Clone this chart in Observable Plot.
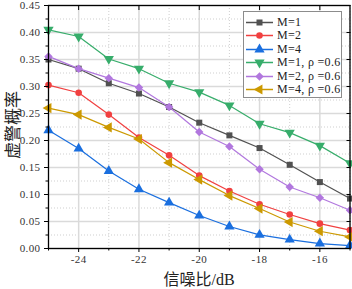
<!DOCTYPE html>
<html>
<head>
<meta charset="utf-8">
<script src="https://cdn.jsdelivr.net/npm/d3@7"></script>
<script src="https://cdn.jsdelivr.net/npm/@observablehq/plot@0.6"></script>
<style>
  html, body { margin: 0; padding: 0; background: #fff; }
  #wrap { position: relative; width: 352px; height: 289px; overflow: hidden; font-family: "Liberation Serif", "Noto Sans CJK SC", serif; }
  #wrap svg.chart { position: absolute; left: 0; top: 0; }
  .ttl { position: absolute; color: #222; white-space: nowrap; font-family: "Liberation Serif", "Noto Sans CJK SC", serif; }
  #legend { position: absolute; left: 243px; top: 11px; width: 99px; height: 87px; box-sizing: border-box; border: 1px solid #8c8c8c; background: #fff; }
  .lrow { position: absolute; left: 0; height: 13px; display: flex; align-items: center; font-size: 12px; color: #222; }
</style>
</head>
<body>
<div id="wrap"></div>
<script>
// ---- data ----
const snr = [-25, -24, -23, -22, -21, -20, -19, -18, -17, -16, -15];
const seriesNames = ["M=1", "M=2", "M=4", "M=1, ρ =0.6", "M=2, ρ =0.6", "M=4, ρ =0.6"];
const m1  = [0.350, 0.333, 0.306, 0.287, 0.262, 0.233, 0.2095, 0.186, 0.155, 0.123, 0.0925];
const m2  = [0.3026, 0.2885, 0.248, 0.2055, 0.1725, 0.135, 0.1066, 0.082, 0.063, 0.046, 0.034];
const m4  = [0.219, 0.185, 0.1435, 0.1097, 0.085, 0.061, 0.0407, 0.0252, 0.0166, 0.0092, 0.0055];
const m1r = [0.405, 0.3926, 0.351, 0.333, 0.306, 0.2896, 0.265, 0.231, 0.2145, 0.1905, 0.158];
const m2r = [0.3557, 0.333, 0.3155, 0.298, 0.262, 0.2157, 0.189, 0.1467, 0.114, 0.094, 0.0708];
const m4r = [0.260, 0.248, 0.2243, 0.2027, 0.159, 0.1276, 0.098, 0.074, 0.049, 0.032, 0.0215];
const xTicks = [-24, -22, -20, -18, -16];
const xMinor = [-25, -23, -21, -19, -17, -15];
const yTicks = [0, 0.05, 0.10, 0.15, 0.20, 0.25, 0.30, 0.35, 0.40, 0.45];
const yMinor = [0.025, 0.075, 0.125, 0.175, 0.225, 0.275, 0.325, 0.375, 0.425];
const xLabel = "信噪比/dB";
const yLabel = "虚警概率";

// ---- styles ----
const colors = ["#515151", "#F14040", "#1A6FDF", "#37AD6B", "#B177DE", "#CC9900"];
const s3 = Math.sqrt(3);
const triDown = {draw(ctx, size) { const y = -Math.sqrt(size / (s3 * 3)); ctx.moveTo(0, -y * 2); ctx.lineTo(-s3 * y, y); ctx.lineTo(s3 * y, y); ctx.closePath(); }};
const triUp = {draw(ctx, size) { const y = -Math.sqrt(size / (s3 * 3)); ctx.moveTo(0, y * 2); ctx.lineTo(-s3 * y, -y); ctx.lineTo(s3 * y, -y); ctx.closePath(); }};
const triLeft = {draw(ctx, size) { const y = -Math.sqrt(size / (s3 * 3)); ctx.moveTo(y * 2, 0); ctx.lineTo(-y, -s3 * y); ctx.lineTo(-y, s3 * y); ctx.closePath(); }};
const symbols = [d3.symbolSquare, d3.symbolCircle, triUp, triDown, d3.symbolDiamond2, triLeft];
const radii = [3.4, 3.3, 3.8, 3.8, 3.8, 3.8];

const allValues = [m1, m2, m4, m1r, m2r, m4r];
const series = allValues.map((vals, i) => ({
  name: seriesNames[i], color: colors[i], symbol: symbols[i], r: radii[i],
  data: snr.map((x, j) => ({x, y: vals[j]}))
}));

const marks = [
  Plot.gridX(xMinor, {stroke: "#cfcfcf", strokeOpacity: 1, strokeWidth: 1, strokeDasharray: "1,2"}),
  Plot.gridY(yMinor, {stroke: "#cfcfcf", strokeOpacity: 1, strokeWidth: 1, strokeDasharray: "1,2"}),
  Plot.gridX(xTicks, {stroke: "#dadada", strokeOpacity: 1, strokeWidth: 1.5}),
  Plot.gridY(yTicks, {stroke: "#dadada", strokeOpacity: 1, strokeWidth: 1.5}),
];
for (const s of series) {
  marks.push(Plot.line(s.data, {x: "x", y: "y", stroke: s.color, strokeWidth: 1.2}));
  marks.push(Plot.dot(s.data, {x: "x", y: "y", fill: s.color, stroke: "none", symbol: () => s.symbol, r: s.r}));
}
marks.push(
  Plot.axisX(xTicks, {anchor: "bottom", tickSize: 4, tickPadding: 3, tickFormat: d => String(d), label: null, stroke: "#000", fill: "#333", fontSize: 11}),
  Plot.axisX(xMinor, {anchor: "bottom", tickSize: 2.5, tickFormat: () => "", label: null, stroke: "#000"}),
  Plot.axisY(yTicks, {anchor: "left", tickSize: 4, tickPadding: 4, tickFormat: d => d.toFixed(2), label: null, stroke: "#000", fill: "#333", fontSize: 11}),
  Plot.axisY(yMinor, {anchor: "left", tickSize: 2.5, tickFormat: () => "", label: null, stroke: "#000"}),
  Plot.axisX(xTicks, {anchor: "top", tickSize: -4, tickFormat: () => "", label: null, stroke: "#000"}),
  Plot.axisY(yTicks, {anchor: "right", tickSize: -4, tickFormat: () => "", label: null, stroke: "#000"}),
  Plot.frame({stroke: "#000", strokeWidth: 1.3})
);

const chart = Plot.plot({
  width: 352, height: 289,
  marginLeft: 48, marginRight: 2.5, marginTop: 5, marginBottom: 41,
  x: {domain: [-25, -15]},
  y: {domain: [0, 0.45]},
  style: {fontFamily: "'Liberation Serif', 'Noto Sans CJK SC', serif", fontSize: "11px", background: "transparent", color: "#333", letterSpacing: "0.4px"},
  marks
});
chart.classList.add("chart");
const wrap = document.getElementById("wrap");
wrap.appendChild(chart);

// axis titles
const xl = document.createElement("div");
xl.className = "ttl"; xl.textContent = xLabel;
xl.style.cssText += "left:199px;top:278px;font-size:16px;transform:translate(-50%,-50%);";
wrap.appendChild(xl);
const yl = document.createElement("div");
yl.className = "ttl"; yl.textContent = yLabel;
yl.style.cssText += "left:11px;top:125px;font-size:17px;transform:translate(-50%,-50%) rotate(-90deg);";
wrap.appendChild(yl);

// legend
const legend = document.createElement("div");
legend.id = "legend";
wrap.appendChild(legend);
series.forEach((s, i) => {
  const row = document.createElement("div");
  row.className = "lrow";
  row.style.top = (3.5 + i * 13.5) + "px";
  const sw = d3.create("svg").attr("width", 33).attr("height", 13);
  sw.append("line").attr("x1", 2).attr("x2", 29).attr("y1", 6.5).attr("y2", 6.5).attr("stroke", s.color).attr("stroke-width", 1.5);
  sw.append("path").attr("transform", "translate(15.5,6.5)").attr("fill", s.color)
    .attr("d", d3.symbol(s.symbol, Math.PI * s.r * s.r)());
  row.appendChild(sw.node());
  const t = document.createElement("span");
  t.textContent = s.name;
  t.style.letterSpacing = "0.3px";
  row.appendChild(t);
  legend.appendChild(row);
});
</script>
</body>
</html>
